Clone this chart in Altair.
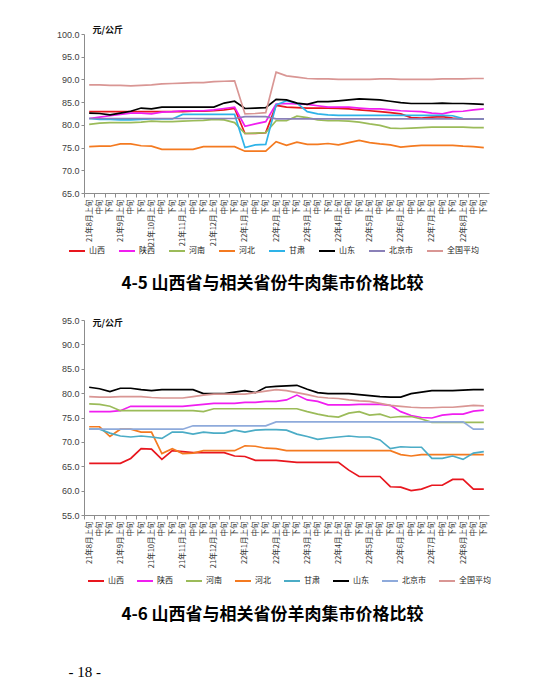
import altair as alt
import pandas as pd

regions = ["山西", "陕西", "河南", "河北", "甘肃", "山东", "北京市", "全国平均"]

month_list = ["21年8月", "21年9月", "21年10月", "21年11月", "21年12月",
              "22年1月", "22年2月", "22年3月", "22年4月", "22年5月",
              "22年6月", "22年7月", "22年8月"]
ten_days = ["上旬", "中旬", "下旬"]
periods = [m + t for m in month_list for t in ten_days]

beef_shanxi = [82.9, 82.9, 82.9, 82.9, 82.9, 82.9, 82.9, 82.9, 82.9, 82.9, 83.0, 83.0, 83.1,
               83.3, 83.6, 78.1, 78.1, 78.3, 84.3, 83.9, 83.8, 83.7, 83.7, 83.7, 83.6, 83.5,
               83.3, 83.1, 82.9, 82.7, 82.4, 81.6, 81.5, 81.7, 81.8, 81.5, 81.3, 81.3, 81.3]
beef_shaanxi = [81.4, 81.7, 82.0, 82.3, 82.6, 82.6, 82.4, 82.8, 82.9, 83.1, 83.1, 83.1, 83.3,
                83.6, 83.9, 79.7, 80.2, 80.7, 84.6, 84.7, 84.6, 84.5, 84.2, 83.9, 83.9, 83.9,
                83.7, 83.5, 83.5, 83.3, 83.1, 83.0, 82.9, 82.6, 82.4, 82.9, 83.0, 83.3, 83.5]
beef_henan = [80.1, 80.4, 80.5, 80.5, 80.5, 80.6, 80.8, 80.7, 80.7, 80.8, 80.9, 81.0, 81.2,
              81.1, 80.5, 78.1, 78.2, 78.3, 80.9, 80.9, 81.9, 81.6, 81.1, 80.9, 80.9, 80.8,
              80.6, 80.2, 79.9, 79.3, 79.2, 79.3, 79.4, 79.5, 79.5, 79.5, 79.5, 79.4, 79.4]
beef_hebei = [75.2, 75.3, 75.3, 75.8, 75.8, 75.4, 75.3, 74.6, 74.6, 74.6, 74.6, 75.2, 75.2,
              75.2, 75.2, 74.2, 74.2, 74.2, 76.3, 75.5, 76.2, 75.7, 75.7, 75.9, 75.6, 76.1,
              76.6, 76.1, 75.8, 75.6, 75.1, 75.3, 75.5, 75.5, 75.5, 75.5, 75.3, 75.2, 75.0]
beef_gansu = [81.4, 81.2, 81.2, 81.1, 81.1, 81.2, 81.3, 81.3, 81.3, 82.3, 82.3, 82.3, 82.3,
              82.3, 82.3, 75.0, 75.6, 75.7, 84.4, 85.3, 84.8, 82.9, 82.4, 82.2, 82.1, 82.1,
              82.1, 82.1, 82.1, 82.1, 82.1, 82.1, 82.1, 82.1, 82.1, 82.0, 81.4, 81.3, 81.3]
beef_shandong = [82.6, 82.5, 82.2, 82.6, 83.0, 83.7, 83.5, 83.9, 83.9, 83.9, 83.9, 83.9, 83.9,
                 84.8, 85.2, 83.6, 83.7, 83.8, 85.6, 85.5, 84.8, 84.5, 85.1, 85.1, 85.3, 85.5,
                 85.7, 85.6, 85.5, 85.2, 84.9, 84.7, 84.7, 84.7, 84.8, 84.7, 84.7, 84.6, 84.5]
beef_beijing = [81.4, 81.4, 81.4, 81.4, 81.4, 81.4, 81.4, 81.4, 81.4, 81.4, 81.4, 81.4, 81.4,
                81.4, 81.4, 81.8, 81.8, 81.8, 81.3, 81.3, 81.3, 81.3, 81.3, 81.3, 81.3, 81.3,
                81.3, 81.3, 81.3, 81.3, 81.3, 81.3, 81.3, 81.3, 81.3, 81.3, 81.3, 81.3, 81.3]
beef_national = [88.8, 88.8, 88.7, 88.7, 88.6, 88.7, 88.8, 89.0, 89.1, 89.2, 89.3, 89.3, 89.5,
                 89.6, 89.7, 82.4, 82.5, 82.7, 91.6, 90.8, 90.5, 90.2, 90.1, 90.1, 90.0, 90.0,
                 90.0, 90.0, 90.1, 90.1, 90.0, 90.0, 90.0, 90.0, 90.1, 90.1, 90.1, 90.2, 90.2]

mutton_shanxi = [65.6, 65.6, 65.6, 65.6, 66.6, 68.6, 68.5, 66.4, 68.2, 68.0, 67.8, 67.8, 67.8,
                 67.8, 67.1, 67.0, 66.2, 66.2, 66.2, 66.0, 65.8, 65.8, 65.8, 65.8, 65.8, 64.2,
                 62.9, 62.9, 62.9, 60.8, 60.7, 60.0, 60.3, 61.1, 61.1, 62.3, 62.3, 60.3, 60.3]
mutton_shaanxi = [76.2, 76.2, 76.2, 76.4, 77.3, 77.3, 77.3, 77.3, 77.3, 77.3, 77.5, 77.7, 77.9,
                  77.9, 77.9, 78.1, 78.1, 78.3, 78.3, 78.6, 79.6, 78.6, 78.3, 77.6, 77.6, 77.6,
                  77.7, 77.7, 77.7, 77.5, 76.2, 75.4, 75.0, 74.9, 75.5, 75.7, 75.7, 76.3, 76.5]
mutton_henan = [77.8, 77.7, 77.3, 76.4, 76.4, 76.4, 76.4, 76.4, 76.4, 76.4, 76.4, 76.2, 76.8,
                76.8, 76.8, 76.8, 76.8, 76.8, 76.8, 76.8, 76.8, 76.2, 75.7, 75.3, 75.1, 75.9,
                76.2, 75.5, 75.7, 75.0, 75.2, 75.2, 74.7, 74.0, 74.0, 74.0, 74.0, 74.0, 74.0]
mutton_hebei = [73.1, 73.1, 71.1, 72.6, 72.6, 72.0, 72.0, 67.6, 68.6, 67.6, 67.7, 68.2, 68.2,
                68.2, 68.2, 69.2, 69.1, 68.7, 68.6, 68.2, 68.2, 68.2, 68.2, 68.2, 68.2, 68.2,
                68.2, 68.2, 68.2, 68.2, 67.4, 67.1, 67.4, 67.4, 67.4, 67.4, 67.4, 67.4, 67.4]
mutton_gansu = [72.6, 72.6, 71.8, 71.2, 71.0, 71.2, 71.0, 70.7, 72.0, 72.0, 71.6, 72.0, 71.8,
                71.8, 72.4, 72.0, 72.4, 72.5, 72.5, 72.4, 71.6, 71.1, 70.5, 70.8, 71.0, 71.2,
                71.0, 71.0, 70.4, 68.6, 69.0, 68.9, 68.9, 66.6, 66.6, 67.1, 66.4, 67.7, 68.0]
mutton_shandong = [81.2, 80.9, 80.3, 81.0, 81.0, 80.7, 80.5, 80.7, 80.7, 80.7, 80.7, 79.9, 79.9,
                   79.9, 80.2, 80.5, 80.1, 81.2, 81.4, 81.5, 81.6, 80.8, 80.1, 79.9, 79.9, 79.9,
                   79.7, 79.5, 79.3, 79.2, 79.2, 79.9, 80.2, 80.5, 80.5, 80.5, 80.6, 80.7, 80.7]
mutton_beijing = [72.6, 72.6, 72.6, 72.6, 72.6, 72.6, 72.6, 72.6, 72.6, 72.6, 73.3, 73.3, 73.3,
                  73.3, 73.3, 73.3, 73.3, 73.3, 74.1, 74.1, 74.1, 74.1, 74.1, 74.1, 74.1, 74.1,
                  74.1, 74.1, 74.1, 74.1, 74.1, 74.1, 74.1, 74.1, 74.1, 74.1, 74.1, 72.6, 72.6]
mutton_national = [79.3, 79.2, 79.2, 79.3, 79.3, 79.3, 79.1, 79.0, 79.0, 79.0, 79.3, 79.6, 79.8,
                   79.8, 79.8, 79.8, 80.1, 80.4, 80.7, 80.5, 80.1, 79.7, 79.2, 79.0, 78.9, 78.6,
                   78.4, 78.3, 77.9, 77.5, 77.3, 77.1, 77.0, 77.0, 77.1, 77.1, 77.3, 77.5, 77.4]

beef_series = [beef_shanxi, beef_shaanxi, beef_henan, beef_hebei,
               beef_gansu, beef_shandong, beef_beijing, beef_national]
mutton_series = [mutton_shanxi, mutton_shaanxi, mutton_henan, mutton_hebei,
                 mutton_gansu, mutton_shandong, mutton_beijing, mutton_national]

beef_colors = ["#e8161e", "#f01ef0", "#9bbb59", "#f47a20",
               "#2eb3e8", "#000000", "#8a80b8", "#d99694"]
mutton_colors = ["#e8161e", "#f01ef0", "#9bbb59", "#f47a20",
                 "#4bacc6", "#000000", "#8eaadb", "#d99694"]

beef_ticks = [65, 70, 75, 80, 85, 90, 95, 100]
mutton_ticks = [55, 60, 65, 70, 75, 80, 85, 90, 95]

beef_caption = "4-5 山西省与相关省份牛肉集市价格比较"
mutton_caption = "4-6 山西省与相关省份羊肉集市价格比较"
page_number = "- 18 -"
unit_label = "元/公斤"

CJK = "Noto Sans CJK SC"
NUM = "Liberation Sans"

PLOT_W = 405
HALF_BAND = PLOT_W / len(periods) / 2

LABEL_EXPR = ("isString(datum.value) ? (indexof(datum.value, '上旬') >= 0 ? datum.value : "
              "substring(datum.value, length(datum.value) - 2)) : ''")


def to_frame(series_list):
    rows = []
    for region, values in zip(regions, series_list):
        for period, v in zip(periods, values):
            rows.append({"period": period, "region": region, "price": v})
    return pd.DataFrame(rows)


def make_panel(series_list, colors, ticks, height, unit_y, leg_x, leg_y, col_pad,
               caption, cap_y):
    df = to_frame(series_list)
    return alt.Chart(df).mark_line(strokeWidth=1.7).encode(
        x=alt.X(
            "period:O", sort=periods,
            scale=alt.Scale(type="band", paddingInner=0, paddingOuter=0),
            axis=alt.Axis(
                title=caption, titleX=188, titleY=cap_y, titleAngle=0,
                titleAlign="center", titleBaseline="middle", titleFontSize=17,
                titleFont=CJK, titleFontWeight="bold", titleColor="#000000",
                labelAngle=270, labelFontSize=7.5, labelFont=CJK,
                labelColor="#333333", tickSize=4,
                tickOffset=-HALF_BAND, labelOffset=HALF_BAND,
                tickColor="#8c8c8c", domainColor="#8c8c8c", labelPadding=2,
                labelExpr=LABEL_EXPR,
            ),
        ),
        y=alt.Y(
            "price:Q",
            scale=alt.Scale(domain=[ticks[0], ticks[-1]], nice=False, zero=False),
            axis=alt.Axis(
                title=unit_label, titleAngle=0, titleX=8, titleY=unit_y,
                titleAlign="left", titleBaseline="middle", titleFontSize=9,
                titleFont=CJK, titleFontWeight="bold", titleColor="#111111",
                values=ticks, format=".1f", grid=False, labelFontSize=9,
                labelFont=NUM, labelColor="#404040", tickSize=3,
                tickColor="#8c8c8c", domainColor="#8c8c8c", labelPadding=2,
            ),
        ),
        color=alt.Color(
            "region:N",
            scale=alt.Scale(domain=regions, range=colors),
            legend=alt.Legend(
                title=None, orient="none", legendX=leg_x, legendY=leg_y,
                direction="horizontal", symbolType="stroke", symbolSize=256,
                symbolStrokeWidth=2, labelFontSize=8, labelFont=CJK,
                labelColor="#222222", labelOffset=3, columnPadding=col_pad,
            ),
        ),
    ).properties(width=PLOT_W, height=height)


beef = make_panel(beef_series, beef_colors, beef_ticks, 159, -5, -16, 208, 10,
                  beef_caption, 90)
mutton = make_panel(mutton_series, mutton_colors, mutton_ticks, 195, 2, 3, 252, 9,
                    mutton_caption, 99)

chart = alt.vconcat(
    beef, mutton, spacing=25,
    title=alt.TitleParams(
        page_number, orient="bottom", anchor="start", offset=43, dx=12,
        fontSize=15, font="Liberation Serif", fontWeight="normal", color="#000000",
    ),
).resolve_scale(
    y="independent", color="independent"
).resolve_legend(
    color="independent"
).properties(
    padding={"left": 48, "top": 17, "right": 5, "bottom": 5}
).configure_view(
    stroke=None
)

chart.save("out.html", embed_options={"renderer": "svg", "actions": False})
